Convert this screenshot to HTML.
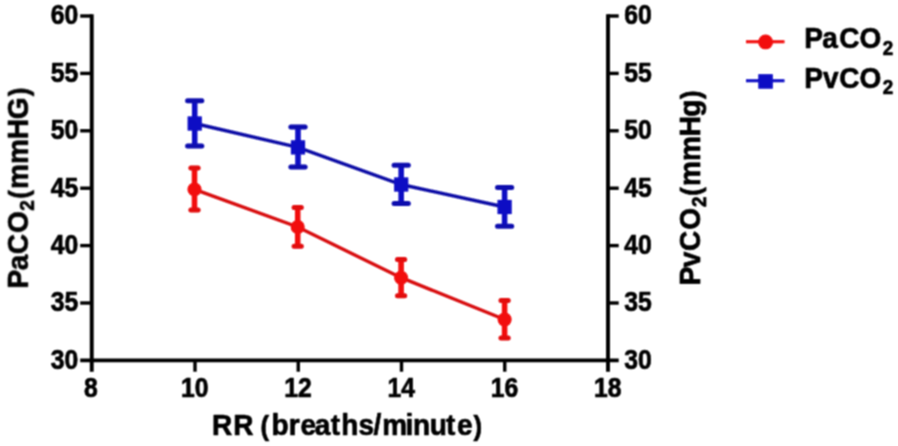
<!DOCTYPE html><html><head><meta charset="utf-8"><title>chart</title><style>html,body{margin:0;padding:0;background:#fff}svg{display:block}text{stroke:#000;stroke-width:0.7px;stroke-linejoin:round;font-family:"Liberation Sans",sans-serif;font-weight:bold;fill:#000}</style></head><body>
<svg width="898" height="446" viewBox="0 0 898 446">
<defs><filter id="soft" x="0" y="0" width="898" height="446" filterUnits="userSpaceOnUse"><feConvolveMatrix order="3" kernelMatrix="1 2 1 2 4 2 1 2 1" divisor="16" edgeMode="none" preserveAlpha="false"/></filter></defs>
<rect width="898" height="446" fill="#fff"/>
<g filter="url(#soft)">
<g stroke="#000" stroke-width="3.9" fill="none">
<path d="M91.75 14.3 V371.7"/>
<path d="M608.0 14.3 V371.7"/>
<path d="M80.2 360.4 H618.7" stroke-width="3.6"/>
<path d="M80.2 303.00 H91.75" stroke-width="3.4"/>
<path d="M608.0 303.00 H618.7" stroke-width="3.4"/>
<path d="M80.2 245.60 H91.75" stroke-width="3.4"/>
<path d="M608.0 245.60 H618.7" stroke-width="3.4"/>
<path d="M80.2 188.20 H91.75" stroke-width="3.4"/>
<path d="M608.0 188.20 H618.7" stroke-width="3.4"/>
<path d="M80.2 130.80 H91.75" stroke-width="3.4"/>
<path d="M608.0 130.80 H618.7" stroke-width="3.4"/>
<path d="M80.2 73.40 H91.75" stroke-width="3.4"/>
<path d="M608.0 73.40 H618.7" stroke-width="3.4"/>
<path d="M80.2 16.00 H91.75" stroke-width="3.4"/>
<path d="M608.0 16.00 H618.7" stroke-width="3.4"/>
<path d="M195.00 360.4 V371.7" stroke-width="3.4"/>
<path d="M298.25 360.4 V371.7" stroke-width="3.4"/>
<path d="M401.50 360.4 V371.7" stroke-width="3.4"/>
<path d="M504.75 360.4 V371.7" stroke-width="3.4"/>
</g>
<text x="78.2" y="368.80" font-size="27" text-anchor="end" textLength="27.5" lengthAdjust="spacingAndGlyphs">30</text>
<text x="624.3" y="368.80" font-size="27" text-anchor="start" textLength="27.5" lengthAdjust="spacingAndGlyphs">30</text>
<text x="78.2" y="311.40" font-size="27" text-anchor="end" textLength="27.5" lengthAdjust="spacingAndGlyphs">35</text>
<text x="624.3" y="311.40" font-size="27" text-anchor="start" textLength="27.5" lengthAdjust="spacingAndGlyphs">35</text>
<text x="78.2" y="254.00" font-size="27" text-anchor="end" textLength="27.5" lengthAdjust="spacingAndGlyphs">40</text>
<text x="624.3" y="254.00" font-size="27" text-anchor="start" textLength="27.5" lengthAdjust="spacingAndGlyphs">40</text>
<text x="78.2" y="196.60" font-size="27" text-anchor="end" textLength="27.5" lengthAdjust="spacingAndGlyphs">45</text>
<text x="624.3" y="196.60" font-size="27" text-anchor="start" textLength="27.5" lengthAdjust="spacingAndGlyphs">45</text>
<text x="78.2" y="139.20" font-size="27" text-anchor="end" textLength="27.5" lengthAdjust="spacingAndGlyphs">50</text>
<text x="624.3" y="139.20" font-size="27" text-anchor="start" textLength="27.5" lengthAdjust="spacingAndGlyphs">50</text>
<text x="78.2" y="81.80" font-size="27" text-anchor="end" textLength="27.5" lengthAdjust="spacingAndGlyphs">55</text>
<text x="624.3" y="81.80" font-size="27" text-anchor="start" textLength="27.5" lengthAdjust="spacingAndGlyphs">55</text>
<text x="78.2" y="24.40" font-size="27" text-anchor="end" textLength="27.5" lengthAdjust="spacingAndGlyphs">60</text>
<text x="624.3" y="24.40" font-size="27" text-anchor="start" textLength="27.5" lengthAdjust="spacingAndGlyphs">60</text>
<text x="90.85" y="397" font-size="27" text-anchor="middle" textLength="13.75" lengthAdjust="spacingAndGlyphs">8</text>
<text x="194.70" y="397" font-size="27" text-anchor="middle" textLength="27.5" lengthAdjust="spacingAndGlyphs">10</text>
<text x="297.95" y="397" font-size="27" text-anchor="middle" textLength="27.5" lengthAdjust="spacingAndGlyphs">12</text>
<text x="401.20" y="397" font-size="27" text-anchor="middle" textLength="27.5" lengthAdjust="spacingAndGlyphs">14</text>
<text x="504.45" y="397" font-size="27" text-anchor="middle" textLength="27.5" lengthAdjust="spacingAndGlyphs">16</text>
<text x="607.70" y="397" font-size="27" text-anchor="middle" textLength="27.5" lengthAdjust="spacingAndGlyphs">18</text>
<text transform="translate(0,435.1) scale(0.927,1)" font-size="30.2" x="228.69 251.56 251.56 280.96 292.77 311.37 324.16 339.45 356.84 368.11 386.73 402.92 412.46 437.51 445.52 463.49 481.22 492.88 510.74" y="0" xml:space="preserve">RR <tspan font-size="27.7">(</tspan>breaths/minute<tspan font-size="27.7">)</tspan></text>
<text transform="translate(27.9,0) rotate(-90) scale(0.927,1)" font-size="30.2" x="-311.27 -291.51 -274.16 -251.27 -227.33 -214.35 -203.83 -176.97 -150.16 -128.53 -103.94" y="0" xml:space="preserve">PaCO<tspan font-size="20.3" dy="6.4">2</tspan><tspan font-size="27.7" dy="-6.4">(</tspan>mmHG<tspan font-size="27.7">)</tspan></text>
<text transform="translate(699.9,0) rotate(-90) scale(0.927,1)" font-size="30.2" x="-307.65 -288.43 -270.82 -247.98 -223.34 -211.28 -200.54 -173.68 -146.87 -125.88 -106.85" y="0" xml:space="preserve">PvCO<tspan font-size="20.3" dy="6.4">2</tspan><tspan font-size="27.7" dy="-6.4">(</tspan>mmHg<tspan font-size="27.7">)</tspan></text>
<g stroke="#0808c4" fill="#0808c4">
<path d="M194.7 123.5 L298.0 147.4 L401.2 184.5 L504.6 207.0" fill="none" stroke="#0c0ca6" stroke-width="3.4"/>
<path d="M194.7 100.8 V146.0" stroke-width="5.5" fill="none"/>
<path d="M187.6 100.8 H201.79999999999998 M187.6 146.0 H201.79999999999998" stroke-width="5" stroke="#0a0aae" stroke-linecap="round" fill="none"/>
<rect x="187.60" y="116.40" width="14.2" height="14.2" stroke="none"/>
<path d="M298.0 127.0 V167.0" stroke-width="5.5" fill="none"/>
<path d="M290.9 127.0 H305.1 M290.9 167.0 H305.1" stroke-width="5" stroke="#0a0aae" stroke-linecap="round" fill="none"/>
<rect x="290.90" y="140.30" width="14.2" height="14.2" stroke="none"/>
<path d="M401.2 165.2 V203.4" stroke-width="5.5" fill="none"/>
<path d="M394.09999999999997 165.2 H408.3 M394.09999999999997 203.4 H408.3" stroke-width="5" stroke="#0a0aae" stroke-linecap="round" fill="none"/>
<rect x="394.10" y="177.40" width="14.2" height="14.2" stroke="none"/>
<path d="M504.6 187.4 V226.3" stroke-width="5.5" fill="none"/>
<path d="M497.5 187.4 H511.70000000000005 M497.5 226.3 H511.70000000000005" stroke-width="5" stroke="#0a0aae" stroke-linecap="round" fill="none"/>
<rect x="497.50" y="199.90" width="14.2" height="14.2" stroke="none"/>
</g>
<g stroke="#f20808" fill="#f20808">
<path d="M194.5 189.4 L297.7 227.0 L401.1 277.7 L504.6 319.5" fill="none" stroke="#d8080e" stroke-width="3.4"/>
<path d="M194.5 168.0 V210.1" stroke-width="5.5" fill="none"/>
<path d="M190.9 168.0 H198.1 M190.9 210.1 H198.1" stroke-width="5" stroke="#e2080c" stroke-linecap="round" fill="none"/>
<circle cx="194.5" cy="189.4" r="7.0" stroke="none"/>
<path d="M297.7 207.4 V246.3" stroke-width="5.5" fill="none"/>
<path d="M294.09999999999997 207.4 H301.3 M294.09999999999997 246.3 H301.3" stroke-width="5" stroke="#e2080c" stroke-linecap="round" fill="none"/>
<circle cx="297.7" cy="227.0" r="7.0" stroke="none"/>
<path d="M401.1 259.6 V295.7" stroke-width="5.5" fill="none"/>
<path d="M397.5 259.6 H404.70000000000005 M397.5 295.7 H404.70000000000005" stroke-width="5" stroke="#e2080c" stroke-linecap="round" fill="none"/>
<circle cx="401.1" cy="277.7" r="7.0" stroke="none"/>
<path d="M504.6 300.6 V338.1" stroke-width="5.5" fill="none"/>
<path d="M501.0 300.6 H508.20000000000005 M501.0 338.1 H508.20000000000005" stroke-width="5" stroke="#e2080c" stroke-linecap="round" fill="none"/>
<circle cx="504.6" cy="319.5" r="7.0" stroke="none"/>
</g>
<path d="M746 41.8 H784.5" stroke="#f20808" stroke-width="2.9"/><circle cx="765.6" cy="41.9" r="7.4" fill="#f20808"/>
<path d="M746 80.8 H784.5" stroke="#0808c4" stroke-width="2.9"/><rect x="758.3" y="74.2" width="14.5" height="14.5" fill="#0808c4"/>
<text transform="translate(0,48.4) scale(0.927,1)" font-size="30.2" x="867.70 886.91 905.23 927.21 952.34" y="0" xml:space="preserve">PaCO<tspan font-size="20.3" dy="6.4">2</tspan></text>
<text transform="translate(0,87.7) scale(0.927,1)" font-size="30.2" x="867.70 887.89 905.23 927.21 952.34" y="0" xml:space="preserve">PvCO<tspan font-size="20.3" dy="6.4">2</tspan></text>
</g>
</svg></body></html>
